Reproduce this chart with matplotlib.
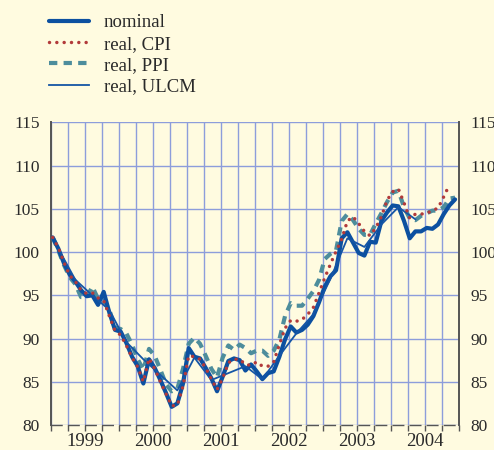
import numpy as np
import matplotlib

matplotlib.use('Agg')
import matplotlib.pyplot as plt
from matplotlib.lines import Line2D

# Effective exchange rate indices, monthly from Jan 1999 (ULCM quarterly, mid-quarter months)
nominal = [101.7, 100.4, 98.7, 97.4, 96.6, 95.6, 94.9, 95.0, 93.9, 95.4, 93.0, 91.0,
           90.8, 89.5, 87.9, 86.8, 84.8, 87.6, 86.6, 85.2, 83.7, 82.1, 82.5, 84.8,
           88.9, 87.9, 87.7, 86.6, 85.4, 83.9, 85.6, 87.4, 87.7, 87.5, 86.3, 87.0,
           86.2, 85.3, 86.0, 86.2, 87.9, 89.9, 91.4, 90.7, 91.0, 91.6, 92.6, 94.2,
           96.0, 97.2, 97.9, 101.6, 102.3, 101.1, 99.9, 99.6, 101.2, 101.1, 103.6, 104.6,
           105.4, 105.3, 103.6, 101.6, 102.4, 102.4, 102.8, 102.7, 103.2, 104.4, 105.4, 106.1]
real_cpi = [101.7, 100.5, 98.8, 97.3, 96.6, 95.6, 95.2, 95.3, 94.7, 94.4, 92.6, 90.9,
            90.4, 89.2, 87.8, 86.7, 85.0, 87.7, 86.5, 85.0, 83.6, 82.2, 82.3, 84.5,
            88.0, 87.9, 87.6, 86.6, 85.3, 84.1, 85.4, 87.2, 87.6, 87.6, 87.0, 86.9,
            87.3, 86.8, 86.8, 87.3, 89.3, 91.2, 92.1, 92.0, 92.2, 92.8, 93.6, 95.3,
            97.0, 98.6, 100.1, 101.5, 103.6, 104.1, 103.3, 102.4, 101.9, 102.8, 104.1, 106.0,
            107.0, 107.3, 105.7, 103.9, 104.4, 104.4, 104.5, 104.8, 105.1, 106.4, 107.8]
real_ppi = [101.7, 100.2, 98.5, 97.1, 96.3, 94.8, 94.8, 96.0, 94.6, 94.4, 93.3, 91.3,
            91.1, 90.6, 89.3, 87.6, 86.4, 88.8, 88.0, 86.4, 84.7, 83.9, 84.2, 86.5,
            89.4, 90.1, 89.4, 88.0, 86.5, 85.5, 87.8, 89.2, 88.7, 89.3, 88.9, 88.3,
            88.6, 88.6, 88.0, 88.6, 89.9, 92.6, 94.1, 93.8, 93.8, 94.6, 95.5, 96.8,
            99.2, 99.8, 100.2, 103.6, 104.4, 103.7, 102.7, 102.0, 102.0, 103.3, 104.5, 105.8,
            106.9, 107.1, 105.2, 103.9, 103.7, 104.2, 104.5, 104.8, 104.8, 105.2, 106.2, 106.3]
ulcm_months = list(range(1, 65, 3))
real_ulcm = [100.4, 96.8, 95.0, 93.3, 89.6, 87.6, 85.8, 84.0, 87.8, 85.2, 86.0,
             86.8, 85.3, 88.0, 90.6, 92.8, 96.9, 101.6, 100.6, 103.2, 105.2, 103.8]
years = ['1999', '2000', '2001', '2002', '2003', '2004']

bg = '#fffbe0'
grid_c = '#8d9ddb'
axis_c = '#555555'
text_c = '#2a2a2a'

plt.rcParams['font.family'] = ['Liberation Serif', 'DejaVu Serif']


def to_time(months):
    return 1999 + (np.asarray(months) + 0.3) / 12.0


fig = plt.figure(figsize=(4.94, 4.5), dpi=100, facecolor=bg)
ax = fig.add_axes([0.1032, 0.0556, 0.826, 0.6722], facecolor=bg)

styles = {
    'nominal': dict(color='#0c50a0', lw=3.0, solid_capstyle='round', solid_joinstyle='round'),
    'real, CPI': dict(color='#b23a3a', lw=2.5, linestyle=(0, (0.01, 2.1)), dash_capstyle='round'),
    'real, PPI': dict(color='#4d8d9c', lw=3.0, linestyle=(0, (2.0, 1.5)), dash_capstyle='butt'),
    'real, ULCM': dict(color='#1555a5', lw=1.3),
}

ax.plot(to_time(range(len(real_ppi))), real_ppi, zorder=3, **styles['real, PPI'])
ax.plot(to_time(range(len(nominal))), nominal, zorder=4, **styles['nominal'])
ax.plot(to_time(ulcm_months), real_ulcm, zorder=5, **styles['real, ULCM'])
ax.plot(to_time(range(len(real_cpi))), real_cpi, zorder=6, **styles['real, CPI'])

ax.set_xlim(1999, 2005)
ax.set_ylim(80, 115)

# quarterly grid and ticks, year names centred under each year
ax.xaxis.remove_overlapping_locs = False
ax.set_xticks(np.arange(1999, 2005.01, 0.25))
ax.set_xticklabels([])
ax.set_xticks(np.arange(1999.5, 2005, 1.0), minor=True)
ax.set_xticklabels(years, minor=True)
ax.set_yticks(np.arange(80, 116, 5))

ax.grid(True, which='major', color=grid_c, lw=1.0, zorder=1)
ax.set_axisbelow(True)

ax.tick_params(axis='x', which='major', direction='out', length=4, width=1.0,
               color=axis_c, bottom=True, top=False)
ax.tick_params(axis='x', which='minor', length=0, pad=5.5, labelsize=13.5,
               labelcolor=text_c)
ax.tick_params(axis='y', which='both', length=0, pad=8, labelsize=12.5,
               labelcolor=text_c, left=False, right=False,
               labelleft=True, labelright=True)

for side in ('left', 'right'):
    ax.spines[side].set_color(axis_c)
    ax.spines[side].set_linewidth(1.4)
ax.spines['top'].set_visible(False)
ax.spines['bottom'].set_color(axis_c)
ax.spines['bottom'].set_linewidth(1.0)
ax.spines['bottom'].set_linestyle((0, (7.6, 4.7)))

# legend in the top-left corner, above the plot
handles = [Line2D([], [], **styles[k]) for k in styles]
fig.legend(handles, list(styles), loc='upper left', bbox_to_anchor=(0.085, 0.985),
           frameon=False, fontsize=13.5, handlelength=2.1, handletextpad=0.8,
           labelspacing=0.22, labelcolor=text_c, borderaxespad=0)

fig.savefig('out.png', dpi=100, facecolor=bg)
